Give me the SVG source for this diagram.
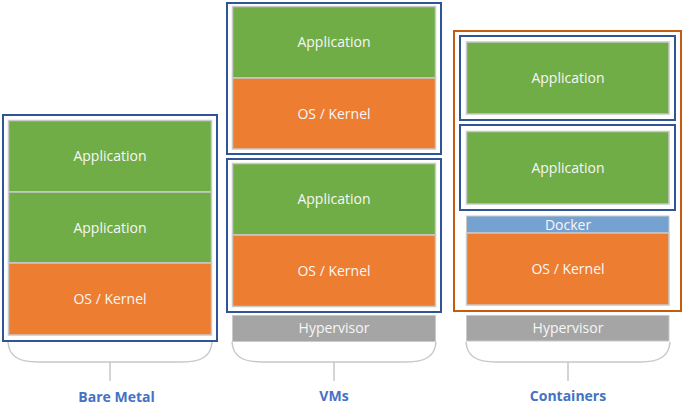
<svg xmlns="http://www.w3.org/2000/svg" width="684" height="417" viewBox="0 0 684 417">
<style>
  .app { fill: #70AD47; stroke: #C9C9C9; stroke-width: 1.5; }
  .os { fill: #ED7D31; stroke: #C9C9C9; stroke-width: 1.5; }
  .hyp { fill: #A5A5A5; stroke: #C9C9C9; stroke-width: 1; }
  .dock { fill: #76A2D2; stroke: #C9C9C9; stroke-width: 1; }
  .frame { fill: none; stroke: #2F5597; stroke-width: 2; }
  .cframe { fill: none; stroke: #C55A11; stroke-width: 2; }
  .t { font-family: "Open Sans", "DejaVu Sans", sans-serif; font-size: 14px; fill: #F7F7F7; text-anchor: middle; dominant-baseline: central; }
  .lbl { font-family: "Open Sans", "DejaVu Sans", sans-serif; font-size: 14px; font-weight: bold; fill: #4472C4; text-anchor: middle; }
  .brace { fill: none; stroke: #C8C8C8; stroke-width: 1.5; }
</style>
<rect width="684" height="417" fill="#FFFFFF"/>

<g id="bare-metal">
  <rect class="app" x="8.5" y="120.5" width="203" height="71.5"/>
  <text class="t" x="110" y="155">Application</text>
  <rect class="app" x="8.5" y="192" width="203" height="71"/>
  <text class="t" x="110" y="227">Application</text>
  <rect class="os" x="8.5" y="263" width="203" height="72"/>
  <text class="t" x="110" y="298">OS / Kernel</text>
  <rect class="frame" x="3" y="115" width="214" height="226"/>
</g>

<g id="vm1">
  <rect class="app" x="232.5" y="6.5" width="203" height="71.5"/>
  <text class="t" x="334" y="41">Application</text>
  <rect class="os" x="232.5" y="78" width="203" height="71"/>
  <text class="t" x="334" y="113">OS / Kernel</text>
  <rect class="frame" x="227" y="3" width="214" height="151"/>
</g>

<g id="vm2">
  <rect class="app" x="232.5" y="163.5" width="203" height="71.5"/>
  <text class="t" x="334" y="198">Application</text>
  <rect class="os" x="232.5" y="235" width="203" height="71.5"/>
  <text class="t" x="334" y="270">OS / Kernel</text>
  <rect class="frame" x="227" y="159" width="214" height="153"/>
</g>

<g id="vm-hypervisor">
  <rect class="hyp" x="232.5" y="315.5" width="203" height="26"/>
  <text class="t" x="334" y="327.5">Hypervisor</text>
</g>

<g id="containers">
  <rect class="cframe" x="454" y="31" width="227" height="280"/>
</g>

<g id="container1">
  <rect class="app" x="466.5" y="42" width="202.5" height="72"/>
  <text class="t" x="568" y="77">Application</text>
  <rect class="frame" x="460" y="36" width="215" height="84"/>
</g>

<g id="container2">
  <rect class="app" x="466.5" y="131.5" width="202.5" height="72.5"/>
  <text class="t" x="568" y="167">Application</text>
  <rect class="frame" x="460" y="125" width="215" height="85"/>
</g>

<g id="docker">
  <rect class="dock" x="466.5" y="216" width="202.5" height="17"/>
  <text class="t" x="568" y="224">Docker</text>
</g>

<g id="container-os">
  <rect class="os" x="466.5" y="233" width="202.5" height="72"/>
  <text class="t" x="568" y="268">OS / Kernel</text>
</g>

<g id="container-hypervisor">
  <rect class="hyp" x="466.5" y="315.5" width="202.5" height="25.5"/>
  <text class="t" x="568" y="327.5">Hypervisor</text>
</g>

<g id="connectors">
  <path class="brace" d="M8,342 C9,356 18,362 38,362 H182 C202,362 211,356 212,342 M110,362 V381"/>
  <path class="brace" d="M232,342 C233,356 242,362 262,362 H406 C426,362 435,356 436,342 M334,362 V381"/>
  <path class="brace" d="M466,342 C467,356 476,362 496,362 H640 C660,362 669,356 670,342 M568,362 V381"/>
</g>

<g id="labels">
  <text class="lbl" x="116.5" y="402">Bare Metal</text>
  <text class="lbl" x="334" y="401">VMs</text>
  <text class="lbl" x="568" y="401">Containers</text>
</g>
</svg>
